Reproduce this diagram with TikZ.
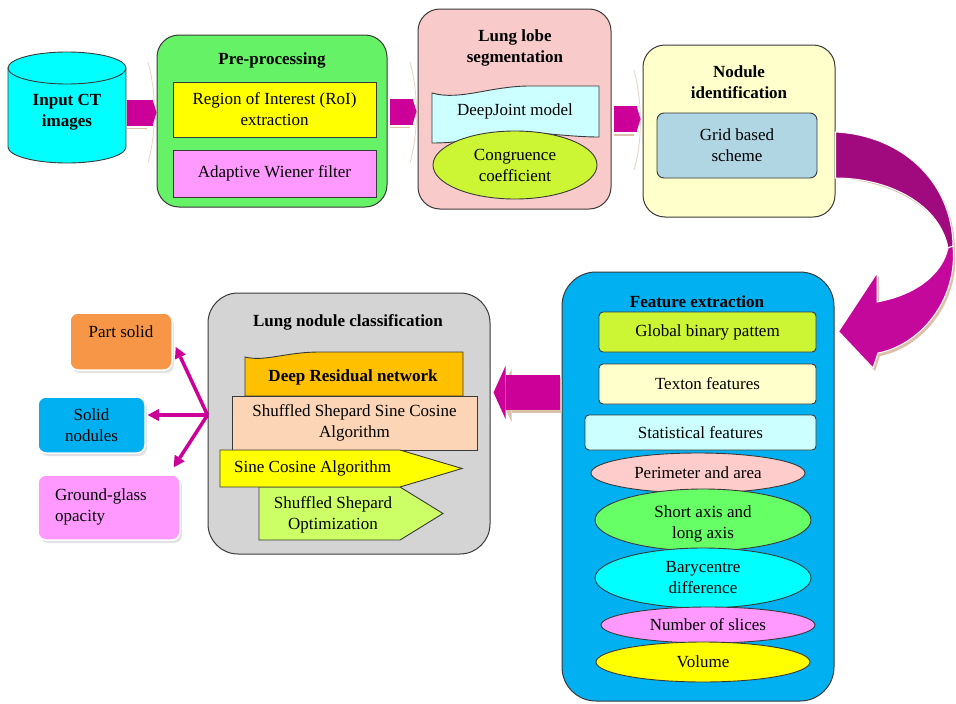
\documentclass[tikz,border=0pt]{standalone}
\usepackage{fontspec}
\setmainfont{Liberation Serif}
\usetikzlibrary{arrows.meta,shapes.geometric,shadows,calc}
\newcommand\fsz{\fontsize{17}{21}\selectfont}
\definecolor{mag}{HTML}{CC0099}
\definecolor{magdark}{HTML}{A10A7E}
\definecolor{magcurve}{HTML}{C4089C}
\definecolor{tanS}{HTML}{DCC0AA}
\definecolor{edge}{HTML}{3A3A3A}
\definecolor{cylC}{HTML}{00FFFF}
\definecolor{greenbox}{HTML}{66F266}
\definecolor{yel}{HTML}{FFFF00}
\definecolor{violetC}{HTML}{FF99FF}
\definecolor{pinkbox}{HTML}{F9CACA}
\definecolor{lcyan}{HTML}{CCFFFF}
\definecolor{ygreen}{HTML}{CCF533}
\definecolor{lyel}{HTML}{FFFFCC}
\definecolor{gridblue}{HTML}{B0D6E4}
\definecolor{sky}{HTML}{00B0F0}
\definecolor{graybox}{HTML}{D4D4D4}
\definecolor{orangeD}{HTML}{FFC000}
\definecolor{peach}{HTML}{FBD5B5}
\definecolor{lgreen}{HTML}{CCFF66}
\definecolor{orangeP}{HTML}{F79646}
\definecolor{pinkE}{HTML}{FFCCCC}
\definecolor{greenE}{HTML}{66FF66}
\begin{document}
\begin{tikzpicture}[x=1pt,y=-1pt,
  bigbox/.style={draw=edge, line width=1pt, rounded corners=22pt, inner sep=0pt},
  inbox/.style={draw=edge, line width=0.9pt, inner sep=0pt, align=center, font=\fsz},
  txt/.style={font=\fsz, align=center, inner sep=0pt},
  ttl/.style={font=\fsz\bfseries, align=center, inner sep=0pt},
  ell/.style={ellipse, draw=edge, line width=0.9pt, inner sep=0pt, align=center, font=\fsz},
  outbox/.style={draw=white, line width=1.5pt, rounded corners=8pt, inner sep=0pt, font=\fsz, align=center,
     drop shadow={shadow xshift=2pt, shadow yshift=-3pt, fill=gray!45}},
  blk/.style={draw=mag, line width=26pt, -{Triangle[length=4pt,width=26pt,line width=0pt]}},
  outarr/.style={draw=mag, line width=3.5pt, -{Triangle[length=11pt,width=12pt,line width=0pt]}},
  tanline/.style={draw=tanS, line width=1.3pt}
]
\fill[white] (0,0) rectangle (956,704);
\useasboundingbox (0,0) rectangle (956,704);

% ---------- Input cylinder
\node[minimum width=118pt, minimum height=111pt, inner sep=0pt] (cyl) at (67,107.5) {};
\draw[draw=edge, line width=0.9pt, fill=cylC] (8,68) -- (8,147)
   arc[start angle=180, end angle=0, x radius=59, y radius=16] -- (126,68) -- cycle;
\draw[draw=edge, line width=0.9pt, fill=cylC] (67,68) ellipse[x radius=59, y radius=16];
\node[ttl] (cyltxt) at (67,112) {Input CT\\images};

% ---------- Pre-processing
\node[bigbox, fill=greenbox, minimum width=230pt, minimum height=172pt] (pre) at (272,121) {};
\node[ttl] (pret) at (272,60) {Pre-processing};
\node[inbox, fill=yel, minimum width=203pt, minimum height=55pt] (roi) at (274.5,109.5) {Region of Interest (RoI)\\extraction};
\node[inbox, fill=violetC, minimum width=203pt, minimum height=47pt] (awf) at (274.5,173.5) {Adaptive Wiener filter};

% ---------- Lung lobe segmentation
\node[bigbox, fill=pinkbox, minimum width=193pt, minimum height=200pt] (lobe) at (514.5,109) {};
\node[ttl] (lobet) at (515,48) {Lung lobe\\segmentation};
\draw[draw=edge, line width=0.9pt, fill=lcyan] (432,93) .. controls (460,101) and (490,86) .. (530,86) -- (599,86) -- (599,137)
   .. controls (560,137) and (520,128) .. (490,135) .. controls (470,141) and (450,143) .. (432,143) -- cycle;
\node[txt] (dj) at (515,111) {DeepJoint model};
\node[ell, fill=ygreen, minimum width=164pt, minimum height=68pt] (cong) at (515,165) {Congruence\\coefficient};

% ---------- Nodule identification
\node[bigbox, fill=lyel, minimum width=192pt, minimum height=172pt] (nod) at (739,131) {};
\node[ttl] (nodt) at (739,82) {Nodule\\identification};
\node[inbox, fill=gridblue, rounded corners=7pt, minimum width=160pt, minimum height=65pt] (grid) at (737,145.5) {Grid based\\scheme};

% ---------- Feature extraction
\node[bigbox, rounded corners=34pt, fill=sky, minimum width=272pt, minimum height=429pt] (feat) at (698,486.5) {};
\node[ttl] (featt) at (697,302) {Feature extraction};
\node[inbox, fill=ygreen, rounded corners=4pt, minimum width=217pt, minimum height=40pt] (gbp) at (707.5,332) {Global binary pattem};
\node[inbox, fill=lyel, rounded corners=4pt, minimum width=217pt, minimum height=40pt] (tex) at (707.5,384) {Texton features};
\node[inbox, fill=lcyan, rounded corners=4pt, minimum width=231pt, minimum height=35pt] (stat) at (700.5,432.5) {Statistical features};
\node[ell, fill=pinkE, minimum width=214pt, minimum height=40pt] (per) at (698,473) {Perimeter and area};
\node[ell, fill=greenE, minimum width=216pt, minimum height=62pt] (sax) at (703,520) {};
\node[txt] (saxt) at (703,524) {Short axis and\\long axis};
\node[ell, fill=cylC, minimum width=216pt, minimum height=60pt] (bary) at (703,578) {Barycentre\\difference};
\node[ell, fill=violetC, minimum width=214pt, minimum height=36pt] (nsl) at (708,625) {Number of slices};
\node[ell, fill=yel, minimum width=214pt, minimum height=40pt] (vol) at (703,662) {Volume};

% ---------- Lung nodule classification
\node[bigbox, rounded corners=30pt, fill=graybox, minimum width=282pt, minimum height=261pt] (cls) at (349,423.5) {};
\node[ttl] (clst) at (348,322) {Lung nodule classification};
\draw[draw=edge, line width=0.9pt, fill=orangeD] (245,357) .. controls (265,362) and (285,352) .. (320,352) -- (463,352) -- (463,396) -- (245,396) -- cycle;
\node[ttl] (drn) at (353,377) {Deep Residual network};
\node[inbox, fill=peach, minimum width=245pt, minimum height=54pt] (sssca) at (354.5,423) {Shuffled Shepard Sine Cosine\\Algorithm};
\draw[draw=edge, line width=0.9pt, fill=lgreen] (259,487) -- (400,487) -- (443,513.5) -- (400,540) -- (259,540) -- cycle;
\node[txt] (sso) at (333,515) {Shuffled Shepard\\Optimization};
\draw[draw=edge, line width=0.9pt, fill=yel] (220,450) -- (400,450) -- (462,468.5) -- (400,487) -- (220,487) -- cycle;
\node[txt, anchor=west] (sca) at (234,468.5) {Sine Cosine Algorithm};

% ---------- Output classes
\node[outbox, fill=orangeP, minimum width=102pt, minimum height=57pt] (ps) at (121,341.5) {};
\node[txt] (pst) at (121,332) {Part solid};
\node[outbox, fill=sky, minimum width=107pt, minimum height=56pt] (sn) at (91.5,425) {Solid\\nodules};
\node[outbox, fill=violetC, minimum width=142pt, minimum height=65pt] (gg) at (109,507.5) {};
\node[txt, align=left, anchor=west] (ggt) at (55,507) {Ground-glass\\opacity};

% ---------- Block arrows top row
\coordinate (a1s) at ([xshift=1pt,yshift=-5pt]cyl.east);
\coordinate (a2s) at ([xshift=2pt,yshift=9.5pt]pre.east);
\coordinate (a3s) at ([xshift=2pt,yshift=-10pt]lobe.east);
\draw[tanline] ([yshift=-16pt]a1s) -- ++(20,0);
\draw[tanline] ([yshift=-16pt]a2s) -- ++(20,0);
\draw[tanline] ([yshift=-16pt]a3s) -- ++(20,0);
\draw[tanS!70, line width=0.8pt] (148,62) .. controls (156,90) and (157,130) .. (148,163);
\draw[tanS!70, line width=0.8pt] (410,62) .. controls (418,90) and (419,130) .. (410,163);
\draw[tanS!70, line width=0.8pt] (634,70) .. controls (642,100) and (643,140) .. (634,170);
\draw[blk] (a1s) -- (a1s -| pre.west);
\draw[blk, shorten >=1pt] (a2s) -- (a2s -| lobe.west);
\draw[blk, shorten >=2pt] (a3s) -- (a3s -| nod.west);

% ---------- Curved arrow nodule -> feature
\coordinate (c1) at ([yshift=-1pt]nod.east);
\coordinate (c2) at ([yshift=-47pt]nod.east);
\coordinate (ctip) at ([xshift=4pt,yshift=155pt]feat.east);
\begin{scope}[xshift=2pt,yshift=-3pt]
\fill[tanS] (c1) .. controls (900,135) and (952,180) .. (953,246)
   .. controls (958,300) and (920,345) .. (878,353) -- (873,368) -- (ctip) -- (877,273) -- (877,302)
   .. controls (915,295) and (942,275) .. (948,248) .. controls (940,205) and (890,178) .. (c2) -- cycle;
\end{scope}
\fill[magdark, draw=white, line width=1pt] (c1) .. controls (900,135) and (952,180) .. (953,246) -- (948,248)
   .. controls (940,205) and (890,178) .. (c2) -- cycle;
\fill[magcurve, draw=white, line width=1pt] (953,246) .. controls (958,300) and (920,345) .. (878,353) -- (873,368) -- (ctip) -- (877,273) -- (877,302)
   .. controls (915,295) and (942,275) .. (948,248) -- cycle;

% ---------- Block arrow feature -> classification
\coordinate (a4s) at ([xshift=-2pt,yshift=94pt]feat.west);
\coordinate (a4e) at ([xshift=3pt]cls.east);
\draw[draw=tanS, line width=35pt, -{Triangle[length=12pt,width=53pt,line width=0pt]}] ([xshift=2pt,yshift=-3pt]a4s) -- ([xshift=6pt,yshift=-3pt]a4s -| a4e);
\draw[draw=mag, line width=35pt, -{Triangle[length=12pt,width=53pt,line width=0pt]}] (a4s) -- (a4s -| a4e);

% ---------- Output arrows
\coordinate (o) at ([yshift=8.5pt]cls.west);
\draw[outarr] (o) -- ([xshift=3pt,yshift=-5.5pt]ps.east);
\draw[outarr] (o) -- ([xshift=2pt,yshift=10pt]sn.east);
\draw[outarr] (o) -- ([xshift=-7pt,yshift=7pt]gg.north east);
\end{tikzpicture}
\end{document}
